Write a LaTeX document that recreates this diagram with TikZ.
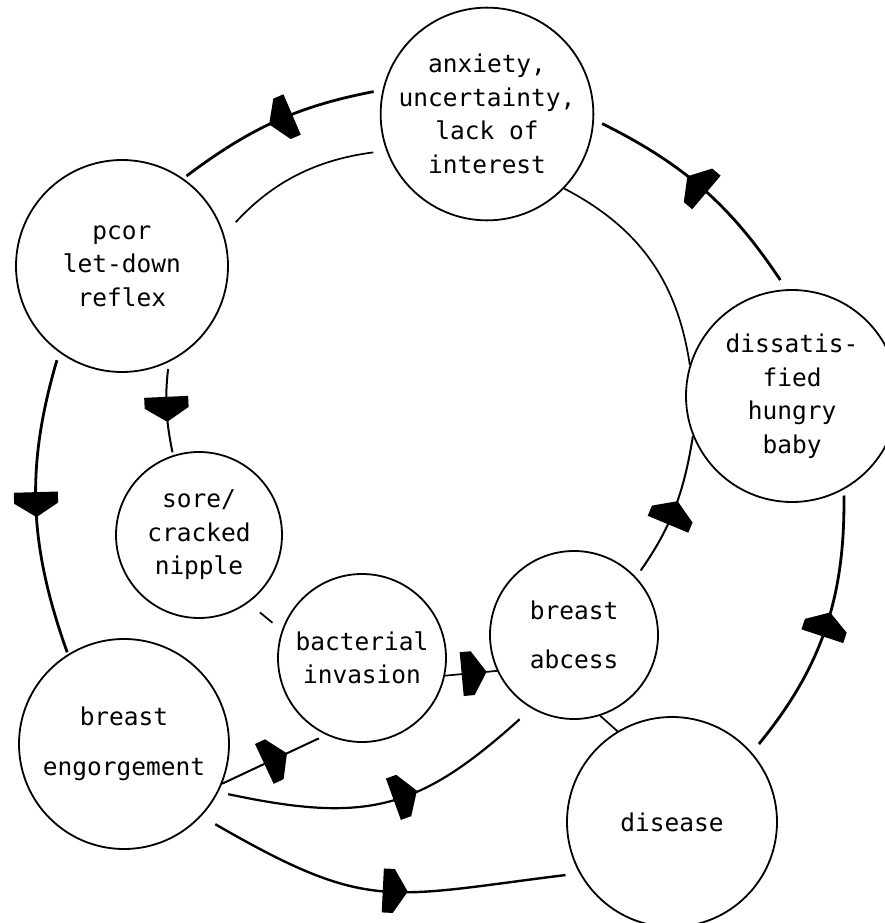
\documentclass[tikz,border=0pt]{standalone}
\usepackage{fontspec}
\setmonofont{DejaVu Sans Mono}
\usetikzlibrary{decorations.markings}
\tikzset{
  state/.style={circle, draw, line width=1.8pt, inner sep=0pt, align=center,
    font=\ttfamily\fontsize{24.5}{33.5}\selectfont},
  outer/.style={line width=2.8pt},
  innerline/.style={line width=1.7pt},
  headat/.style={postaction={decorate}, decoration={markings,
    mark=at position #1 with {\fill[black] (-12pt,-22pt) -- (-1pt,-22pt) -- (13pt,0pt) -- (-1pt,22pt) -- (-12pt,22pt) -- cycle;}}}
}
\begin{document}
\begin{tikzpicture}[x=1pt, y=-1pt]
\useasboundingbox (0,0) rectangle (885,923);
\clip (0,0) rectangle (885,923);
\fill[white] (0,0) rectangle (885,923);

\node[state, minimum size=210pt] (anx) at (487,114) {anxiety,\\uncertainty,\\lack of\\interest};
\node[state, minimum size=212pt] (pld) at (122,266) {pcor\\let-down\\reflex};
\node[state, minimum size=212pt] (dhb) at (792,396) {dissatis-\\fied\\hungry\\baby};
\node[state, minimum size=166pt] (snp) at (199,535) {sore/\\cracked\\nipple};
\node[state, minimum size=168pt] (bac) at (362,658) {bacterial\\invasion};
\node[state, minimum size=168pt] (abc) at (574,635) {breast\\[16pt]abcess};
\node[state, minimum size=210pt] (eng) at (124,744) {breast\\[16pt]engorgement};
\node[state, minimum size=210pt] (dis) at (672,822) {disease};

% outer ring
\draw[outer, headat=0.48, shorten <=9pt, shorten >=4pt] (anx.167) to[bend right=13] (pld.55);
\draw[outer, headat=0.53, shorten <=11pt, shorten >=9pt] (dhb.93) to[bend right=15] (anx.-3);
\draw[outer, headat=0.5, shorten <=8pt, shorten >=2pt] (pld.234) to[bend right=18] (eng.122);
\draw[outer, line width=2.4pt, headat=0.53, shorten <=16pt, shorten >=14pt] (eng.-43) to[out=-30, in=187, looseness=1.3] (dis.209);
\draw[outer, headat=0.52, shorten <=11pt, shorten >=6pt] (dis.41) to[bend right=20] (dhb.-61);

% inner connections
\draw[innerline, line width=2pt, headat=0.5, shorten <=7pt, shorten >=3pt] (pld.-64) to[bend right=9] (snp.108);
\draw[innerline, shorten <=15pt, shorten >=12pt] (snp.-54) -- (bac.161);
\draw[innerline, headat=0.55] (bac.-12) -- (abc.205);
\draw[innerline, line width=2pt, headat=0.51, shorten >=8pt] (eng.-22) -- (bac.245);
\draw[innerline, line width=2.2pt, headat=0.55, shorten <=10pt, shorten >=16pt] (eng.-27) to[out=-12, in=222, looseness=1.2] (abc.240);
\draw[innerline] (abc.-72) -- (dis.121);
\draw[innerline, line width=2pt, headat=0.48, shorten <=8pt] (abc.43) to[bend right=13] (dhb.202);
\draw[innerline, shorten <=13pt, shorten >=17pt] (anx.200) to[bend right=20] (pld.17);
\draw[innerline] (anx.-44) to[bend left=27] (dhb.163);
\end{tikzpicture}
\end{document}
